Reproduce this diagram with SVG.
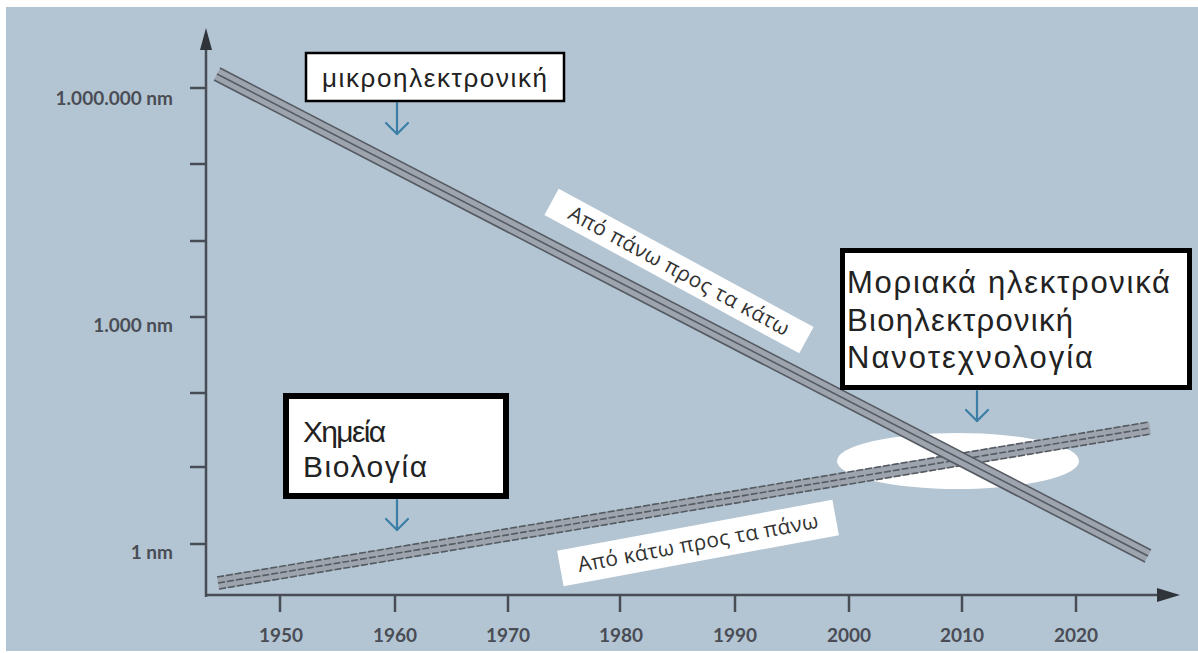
<svg xmlns="http://www.w3.org/2000/svg" width="1198" height="653" viewBox="0 0 1198 653">
<defs>
<style>
.axis{stroke:#474c55;stroke-width:2.5;fill:none}
.tick{stroke:#474c55;stroke-width:2.5}
.lbl{font-family:Lato,"Open Sans",sans-serif;font-weight:bold;font-size:19px;fill:#4a4d55;text-anchor:end}
.yr{font-family:Lato,"Open Sans",sans-serif;font-weight:bold;font-size:19px;fill:#4a4d55;text-anchor:middle}
.band{stroke:#9ea4ad;stroke-width:13;stroke-linecap:butt;fill:none}
.bl{stroke:#555a62;stroke-width:1.6;fill:none}
.box{fill:#ffffff;stroke:#000000}
.bt{font-family:"Liberation Sans",Arial,sans-serif;fill:#222222}
.rt{font-family:"Open Sans",Lato,sans-serif;font-size:21px;fill:#333333}
.blue{stroke:#3b7fa6;stroke-width:2.2;fill:none;stroke-linecap:round;stroke-linejoin:round}
</style>
</defs>
<rect x="0" y="0" width="1198" height="653" fill="#ffffff"/>
<rect x="6" y="7" width="1192" height="644" fill="#b3c5d3"/>

<g id="highlight">
<ellipse cx="958" cy="461" rx="121" ry="28" fill="#ffffff"/>
</g>

<g id="axes">
<line class="axis" x1="206" y1="597" x2="206" y2="44"/>
<polygon points="206,28 200,50 212,50" fill="#2f333a"/>
<line class="axis" x1="205" y1="595" x2="1162" y2="595"/>
<polygon points="1180,595 1157,588 1157,602" fill="#2f333a"/>
<g class="tick">
<line x1="190" y1="88" x2="206" y2="88"/>
<line x1="190" y1="164" x2="206" y2="164"/>
<line x1="190" y1="241" x2="206" y2="241"/>
<line x1="190" y1="317" x2="206" y2="317"/>
<line x1="190" y1="393" x2="206" y2="393"/>
<line x1="190" y1="467" x2="206" y2="467"/>
<line x1="190" y1="544" x2="206" y2="544"/>
<line x1="280" y1="595" x2="280" y2="612"/>
<line x1="395" y1="595" x2="395" y2="612"/>
<line x1="508" y1="595" x2="508" y2="612"/>
<line x1="620" y1="595" x2="620" y2="612"/>
<line x1="735" y1="595" x2="735" y2="612"/>
<line x1="849" y1="595" x2="849" y2="612"/>
<line x1="962" y1="595" x2="962" y2="612"/>
<line x1="1076" y1="595" x2="1076" y2="612"/>
</g>
<text class="lbl" x="173" y="105">1.000.000 nm</text>
<text class="lbl" x="173" y="332">1.000 nm</text>
<text class="lbl" x="173" y="559">1 nm</text>
<text class="yr" x="281" y="642">1950</text>
<text class="yr" x="395" y="642">1960</text>
<text class="yr" x="508" y="642">1970</text>
<text class="yr" x="621" y="642">1980</text>
<text class="yr" x="735" y="642">1990</text>
<text class="yr" x="849" y="642">2000</text>
<text class="yr" x="962" y="642">2010</text>
<text class="yr" x="1076" y="642">2020</text>
</g>

<g id="connectors">
<g id="band-up">
<line class="band" x1="218" y1="583" x2="1150" y2="428"/>
<line class="bl" x1="217" y1="577" x2="1149" y2="422" stroke-dasharray="7 2"/>
<line class="bl" x1="218" y1="583" x2="1150" y2="428" stroke-dasharray="7 2"/>
<line class="bl" x1="219" y1="589" x2="1151" y2="434" stroke-dasharray="7 2"/>
</g>
<g id="band-down">
<line class="band" x1="217" y1="74" x2="1148" y2="556"/>
<line class="bl" x1="220" y1="68" x2="1151" y2="550"/>
<line class="bl" x1="217" y1="74" x2="1148" y2="556"/>
<line class="bl" x1="214" y1="80" x2="1145" y2="562"/>
</g>
<polyline class="blue" points="397,103 397,134"/>
<polyline class="blue" points="386,123 397,134 408,123"/>
<polyline class="blue" points="397,500 397,530"/>
<polyline class="blue" points="386,519 397,530 408,519"/>
<polyline class="blue" points="977,391 977,421"/>
<polyline class="blue" points="966,410 977,421 988,410"/>
</g>

<g id="label-down" transform="translate(679,271) rotate(28.5)">
<rect x="-145" y="-15" width="290" height="30" fill="#ffffff"/>
<text class="rt" x="-124" y="7" textLength="248" lengthAdjust="spacing">Από πάνω προς τα κάτω</text>
</g>

<g id="label-up" transform="translate(698,543) rotate(-10.5)">
<rect x="-140" y="-18" width="280" height="36" fill="#ffffff"/>
<text class="rt" x="-122" y="7" textLength="244" lengthAdjust="spacing">Από κάτω προς τα πάνω</text>
</g>

<g id="node-micro">
<rect class="box" x="306" y="53" width="258" height="48" stroke-width="2.5"/>
<text class="bt" x="322" y="87" font-size="26" textLength="225" lengthAdjust="spacing">μικροηλεκτρονική</text>
</g>

<g id="node-chem">
<rect class="box" x="286" y="396" width="220" height="100" stroke-width="6"/>
<text class="bt" x="303" y="442" font-size="30" textLength="83" lengthAdjust="spacing">Χημεία</text>
<text class="bt" x="303" y="477" font-size="30" textLength="124" lengthAdjust="spacing">Βιολογία</text>
</g>

<g id="node-nano">
<rect class="box" x="842.5" y="250.5" width="347" height="137" stroke-width="5"/>
<text class="bt" x="847" y="293" font-size="31" textLength="323" lengthAdjust="spacing">Μοριακά ηλεκτρονικά</text>
<text class="bt" x="847" y="331" font-size="31" textLength="226" lengthAdjust="spacing">Βιοηλεκτρονική</text>
<text class="bt" x="847" y="368" font-size="31" textLength="246" lengthAdjust="spacing">Νανοτεχνολογία</text>
</g>
</svg>
